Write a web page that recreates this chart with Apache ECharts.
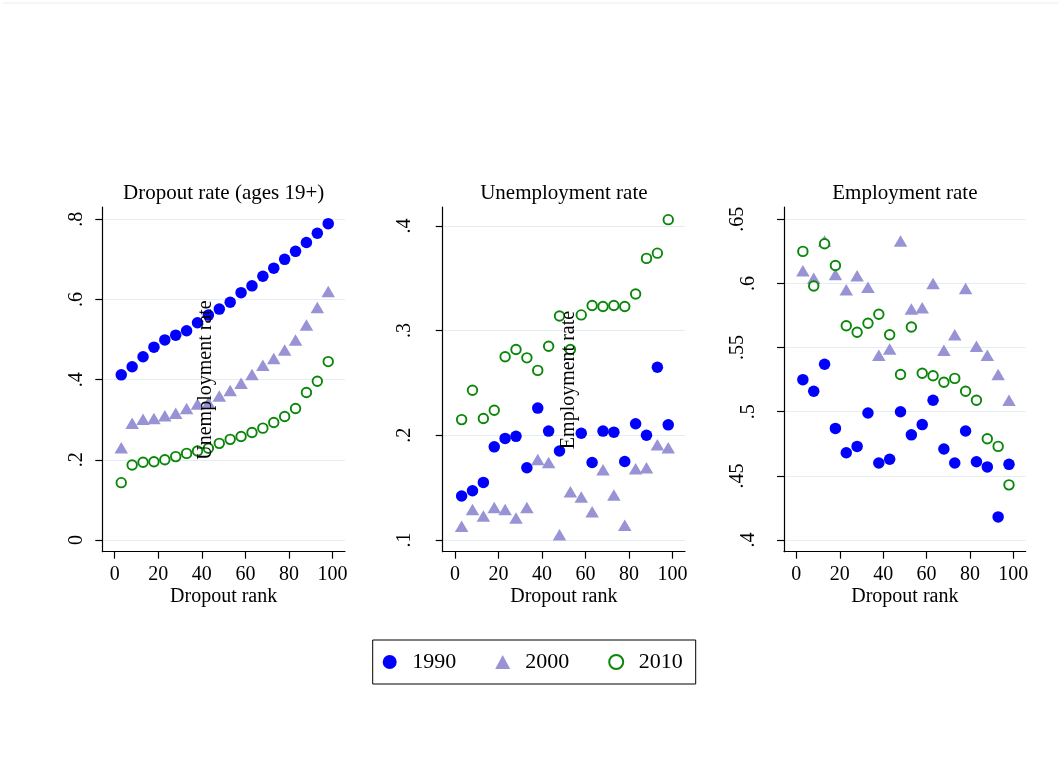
<!DOCTYPE html>
<html><head><meta charset="utf-8">
<script src="https://cdn.jsdelivr.net/npm/echarts@6/dist/echarts.min.js"></script>
<style>html,body{margin:0;padding:0;background:#fff}#c{width:1058px;height:769px}</style>
</head><body><div id="c"></div>
<script>
const ranks = [3,8,13,18,23,28,33,38,43,48,53,58,63,68,73,78,83,88,93,98];

const dropout1990 = [0.412,0.432,0.457,0.481,0.499,0.511,0.522,0.542,0.561,0.576,0.593,0.617,0.634,0.658,0.678,0.700,0.720,0.742,0.765,0.789];
const dropout2000 = [0.230,0.291,0.301,0.303,0.310,0.316,0.328,0.339,0.343,0.359,0.373,0.391,0.413,0.436,0.453,0.474,0.499,0.536,0.580,0.620];
const dropout2010 = [0.143,0.187,0.194,0.195,0.200,0.208,0.216,0.222,0.229,0.241,0.251,0.258,0.268,0.279,0.293,0.308,0.328,0.368,0.396,0.445];

const unemp1990 = [0.142,0.147,0.155,0.189,0.197,0.199,0.169,0.226,0.204,0.185,null,0.202,0.174,0.204,0.203,0.175,0.211,0.200,0.265,0.210];
const unemp2000 = [0.113,0.129,0.123,0.131,0.129,0.121,0.131,0.177,0.174,0.105,0.146,0.141,0.127,0.167,0.143,0.114,0.168,0.169,0.191,0.188];
const unemp2010 = [0.215,0.243,0.216,0.224,0.275,0.282,0.274,0.262,0.285,0.314,0.282,0.315,0.324,0.323,0.324,0.323,0.335,0.369,0.374,0.406];

const emp1990 = [0.525,0.516,0.537,0.487,0.468,0.473,0.499,0.460,0.463,0.500,0.482,0.490,0.509,0.471,0.460,0.485,0.461,0.457,0.418,0.459];
const emp2000 = [0.610,0.604,0.633,0.607,0.595,0.606,0.597,0.544,0.549,0.633,0.580,0.581,0.600,0.548,0.560,0.596,0.551,0.544,0.529,0.509];
const emp2010 = [0.625,0.598,0.631,0.614,0.567,0.562,0.569,0.576,0.560,0.529,0.566,0.530,0.528,0.523,0.526,0.516,0.509,0.479,0.473,0.443];

const xTicks = [0,20,40,60,80,100];
const yTicks1 = [0,0.2,0.4,0.6,0.8];
const yTicks2 = [0.1,0.2,0.3,0.4];
const yTicks3 = [0.4,0.45,0.5,0.55,0.6,0.65];
const panelTitles = ['Dropout rate (ages 19+)','Unemployment rate','Employment rate'];
const strayTitles = ['Unemployment rate','Employment rate'];
const years = ['1990','2000','2010'];
const xTitle = 'Dropout rank';

const FONT = 'Liberation Serif';
const fmt = v => { let s = String(+v.toFixed(2)); if (s.startsWith('0.')) s = s.slice(1); return s; };

const grids = [
  {left:102.3, top:207, width:242.7, height:344.7},
  {left:442.7, top:207, width:242.3, height:344.7},
  {left:784, top:207, width:241.7, height:344.7}
];
const yRanges = [[-0.0292,0.8306],[0.0888,0.4181],[0.3909,0.6596]];
const yTickSets = [yTicks1,yTicks2,yTicks3];
const yMargins = [16,27.5,25.5];

const xAxes = grids.map((g,i)=>({
  gridIndex:i, type:'value', min:-5.7, max:105.7,
  axisLine:{show:true, onZero:false, lineStyle:{color:'#000', width:1.2}},
  axisTick:{show:true, length:7, customValues:xTicks, lineStyle:{color:'#000', width:1.2}},
  axisLabel:{customValues:xTicks, margin:13, fontFamily:FONT, fontSize:20, color:'#000'},
  splitLine:{show:false},
  name:xTitle, nameLocation:'middle', nameGap:35,
  nameTextStyle:{fontFamily:FONT, fontSize:20, color:'#000'}
}));
const yAxes = grids.map((g,i)=>({
  gridIndex:i, type:'value', min:yRanges[i][0], max:yRanges[i][1],
  axisLine:{show:true, onZero:false, lineStyle:{color:'#000', width:1.2}},
  axisTick:{show:true, length:7, customValues:yTickSets[i], lineStyle:{color:'#000', width:1.2}},
  axisLabel:{customValues:yTickSets[i], rotate:90, margin:yMargins[i], fontFamily:FONT, fontSize:20, color:'#000',
    formatter: v => { const s = fmt(v); return s.length>2 ? '{l|'+s+'}' : '{s|'+s+'}'; },
    rich:{ l:{fontFamily:FONT, fontSize:20, color:'#000', padding:[0,0,11,0]}, s:{fontFamily:FONT, fontSize:20, color:'#000'} }
  },
  splitLine:{show:true, lineStyle:{color:'#e4edf0', width:1.2}}
}));

const styles = [
  {symbol:'circle', symbolSize:11.5, itemStyle:{color:'#0000ff', opacity:1}},
  {symbol:'triangle', symbolSize:[13.5,11.5], itemStyle:{color:'#9893d5', opacity:1}},
  {symbol:'circle', symbolSize:9.5, itemStyle:{color:'#ffffff', borderColor:'#0a870a', borderWidth:1.9, opacity:1}}
];
const panels = [[dropout1990,dropout2000,dropout2010],[unemp1990,unemp2000,unemp2010],[emp1990,emp2000,emp2010]];
const series = [];
panels.forEach((sets,p)=>{
  sets.forEach((arr,k)=>{
    series.push(Object.assign({
      type:'scatter', name:years[k], xAxisIndex:p, yAxisIndex:p,
      data: ranks.map((r,i)=>[r,arr[i]]).filter(d=>d[1]!==null),
      emphasis:{disabled:true}, animation:false
    }, JSON.parse(JSON.stringify(styles[k]))));
  });
});

const centers = grids.map(g=>g.left+g.width/2);
const graphic = [
  {type:'line', shape:{x1:3,y1:3,x2:1058,y2:3}, style:{stroke:'#ececec', lineWidth:1}},
  ...panelTitles.map((t,i)=>({type:'text', x:centers[i], y:193, style:{text:t, fontFamily:FONT, fontSize:21, fill:'#000', textAlign:'center', textVerticalAlign:'middle'}})),
  {type:'text', x:205.5, y:380, rotation:Math.PI/2, z:100, style:{text:strayTitles[0], fontFamily:FONT, fontSize:20, fill:'#000', textAlign:'center', textVerticalAlign:'middle'}},
  {type:'text', x:568.5, y:380, rotation:Math.PI/2, z:100, style:{text:strayTitles[1], fontFamily:FONT, fontSize:20, fill:'#000', textAlign:'center', textVerticalAlign:'middle'}}
];

const chart = echarts.init(document.getElementById('c'), null, {renderer:'canvas'});
chart.setOption({
  backgroundColor:'#fff',
  animation:false,
  grid: grids,
  xAxis: xAxes,
  yAxis: yAxes,
  legend:{
    data:years, left:372.7, top:640, orient:'horizontal',
    borderColor:'#000', borderWidth:1, padding:[11,13,11,10],
    itemGap:39, itemWidth:15, itemHeight:14,
    textStyle:{fontFamily:FONT, fontSize:22, color:'#000', padding:[0,0,0,10]},
    selectedMode:false
  },
  graphic: graphic,
  series: series
});
</script></body></html>
